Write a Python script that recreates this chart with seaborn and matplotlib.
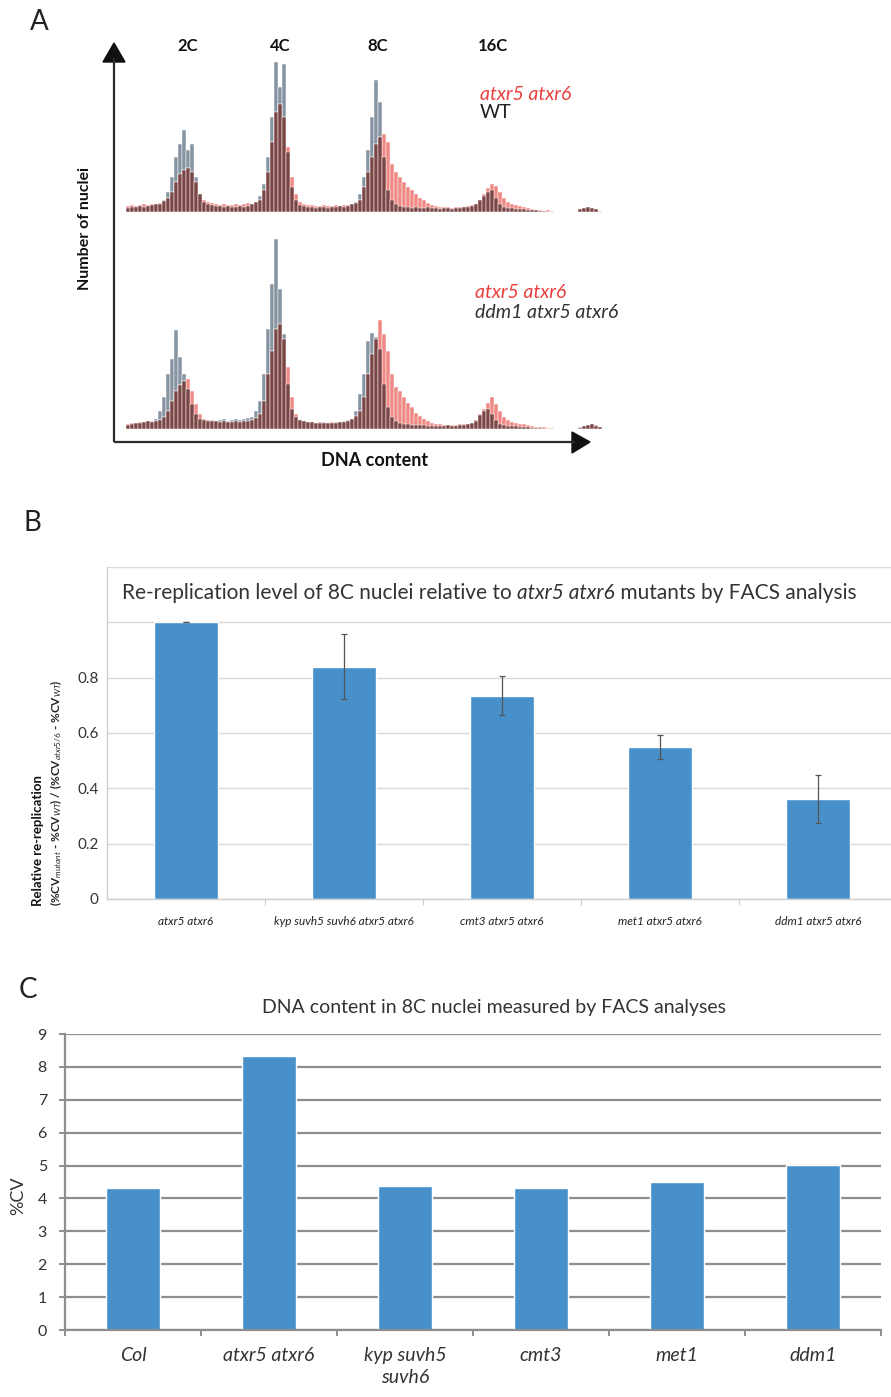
import numpy as np
import pandas as pd
import matplotlib
matplotlib.use("Agg")
import matplotlib.pyplot as plt
from matplotlib.patches import Polygon
import seaborn as sns

# ---------------------------------------------------------------------------
# Panel A: FACS histograms (counts per DNA-content channel bin)
# ---------------------------------------------------------------------------
hist_wt = [
    4, 5, 5, 6, 5, 6, 7, 8,
    8, 12, 20, 35, 55, 68, 82, 62, 68, 35, 18, 10, 8,
    7, 6, 6, 5, 6, 5, 5, 6, 5, 6, 8,
    10, 16, 28, 55, 95, 150, 125, 148, 60, 25, 12, 7,
    6, 5, 5, 4, 5, 5, 4, 5, 5, 6, 5, 6, 8,
    10, 18, 35, 62, 95, 132, 110, 55, 22, 12, 8,
    6, 5, 5, 4, 5, 4, 4, 5, 4, 4, 3, 4, 4, 3, 4, 4, 5, 5, 6,
    8, 12, 16, 20, 22, 14, 8, 5,
    4, 4, 3, 3, 3, 2, 2, 2, 1, 1, 0,
    0, 0, 0, 0, 0, 0, 0,
    3, 4, 5, 4, 3,
    0, 0,
]
hist_atxr56_top = [
    6, 7, 6, 7, 8, 7, 8, 8,
    9, 11,
    14, 20, 30, 38, 42, 44, 40, 30, 18, 12, 10,
    9, 8, 7, 8, 7, 7, 8, 7, 8, 9, 8, 10,
    12, 22, 40, 70, 100, 108, 95, 65, 35, 18, 10, 8,
    7, 7, 6, 6, 7, 6, 6, 7, 6, 7, 7, 8, 9,
    12, 25, 40, 55, 68, 75, 78, 70, 48, 40, 35, 30, 25, 22, 18, 14, 12, 9, 7,
    6, 5, 5, 5, 4, 5, 5, 5, 6, 7,
    8, 12, 18, 24, 28, 26, 20, 14, 10, 8, 7, 6, 5, 4, 3,
    2, 2, 1, 2, 1, 0,
    0, 0, 0, 0, 0,
    3, 4, 5, 4, 3,
    1, 0,
]
hist_ddm1_atxr56 = [
    4, 5, 6, 6, 7, 8, 8,
    10, 18, 32, 55, 70, 99, 72, 55, 40, 25, 15, 10,
    9, 8, 9, 8, 9, 10, 8, 9, 10, 9, 10, 11,
    12, 18, 28, 55, 100, 145, 190, 140, 95, 45, 20, 12, 9,
    8, 7, 7, 6, 6, 7, 6, 6, 7, 7, 8, 9,
    10, 18, 35, 55, 88, 96, 92, 80, 45, 22, 12, 8,
    6, 5, 5, 4, 4, 4, 4, 3, 3, 3, 3, 3, 4, 3, 3, 4, 4, 5, 6,
    8, 14, 18, 20, 15, 9, 5,
    4, 3, 3, 3, 2, 2, 2, 1, 1, 1, 0,
    0, 0, 0, 0, 0, 0, 0, 0, 2,
    3, 4, 5, 3,
    2, 0,
]
hist_atxr56_bottom = [
    5, 6, 6, 7, 7, 8, 7, 8, 9,
    12, 18, 28, 38, 44, 48, 50, 38, 25, 15, 10,
    9, 8, 8, 7, 8, 7, 7, 8, 7, 8, 8, 9, 11,
    15, 28, 55, 78, 100, 105, 90, 62, 32, 15, 9,
    8, 7, 7, 6, 7, 6, 6, 7, 6, 7, 7, 8, 10,
    13, 18, 32, 55, 75, 90, 109, 95, 78, 55, 42, 38, 32, 26, 22, 16, 13, 10, 8, 6,
    5, 5, 4, 4, 4, 4, 5, 5, 5,
    6, 9, 15, 20, 26, 32, 25, 18, 12, 9, 7, 6, 5, 5, 4, 3,
    2, 2, 2, 1, 1, 0,
    0, 0, 0, 0, 0, 1,
    3, 4, 5, 4,
    2, 0,
]
ploidy_labels = ["2C", "4C", "8C", "16C"]

# ---------------------------------------------------------------------------
# Panel B: relative re-replication of 8C nuclei
# ---------------------------------------------------------------------------
b_genotypes = ["atxr5 atxr6", "kyp suvh5 suvh6 atxr5 atxr6", "cmt3 atxr5 atxr6",
               "met1 atxr5 atxr6", "ddm1 atxr5 atxr6"]
b_values = [1.0, 0.84, 0.735, 0.55, 0.36]
b_errors = [0.0, 0.118, 0.07, 0.044, 0.087]

# ---------------------------------------------------------------------------
# Panel C: %CV of DNA content in 8C nuclei
# ---------------------------------------------------------------------------
c_genotypes = ["Col", "atxr5 atxr6", "kyp suvh5\nsuvh6", "cmt3", "met1", "ddm1"]
c_values = [4.33, 8.32, 4.38, 4.33, 4.50, 5.01]

# ---------------------------------------------------------------------------
sns.set_theme(style="white")
plt.rcParams["font.family"] = ["Lato", "DejaVu Sans"]
plt.rcParams["mathtext.fontset"] = "custom"
plt.rcParams["mathtext.rm"] = "Lato"
plt.rcParams["mathtext.it"] = "Lato:italic"
plt.rcParams["mathtext.bf"] = "Lato:bold"

W, H = 891, 1397
fig = plt.figure(figsize=(W / 100, H / 100), dpi=100)
fig.patch.set_facecolor("white")


def axes_px(left, top, right, bottom):
    return fig.add_axes([left / W, 1 - bottom / H, (right - left) / W, (bottom - top) / H])


GREY = "#8693a0"
PINK = "#ef8883"
MAROON = "#7b4646"
BAR_BLUE = "#4790c9"
TEXT = "#333333"

n_bins = len(hist_wt)
bin_centres = np.arange(n_bins) + 0.5


def draw_overlay(ax, grey_counts, red_counts, ymax):
    grey_counts = np.asarray(grey_counts, float)
    red_counts = np.asarray(red_counts, float)
    shared = np.minimum(grey_counts, red_counts)
    for counts, colour in ((grey_counts, GREY), (red_counts, PINK), (shared, MAROON)):
        frame = pd.DataFrame({"channel": bin_centres, "count": counts})
        sns.histplot(data=frame, x="channel", weights="count", bins=n_bins,
                     binrange=(0, n_bins), ax=ax,
                     color=colour, alpha=1, edgecolor="white", linewidth=0.35,
                     element="bars", fill=True, legend=False)
    ax.set_xlim(0, n_bins)
    ax.set_ylim(0, ymax)
    ax.axis("off")


ax_top = axes_px(126, 52, 606, 212)
draw_overlay(ax_top, hist_wt, hist_atxr56_top, 160)
ax_bot = axes_px(126, 229, 606, 429)
draw_overlay(ax_bot, hist_ddm1_atxr56, hist_atxr56_bottom, 200)

# ---------------------------------------------------------------------------
# Panel B
# ---------------------------------------------------------------------------
axB = axes_px(107, 567, 897, 899)
dfB = pd.DataFrame({"genotype": b_genotypes, "value": b_values})
sns.barplot(data=dfB, x="genotype", y="value", color=BAR_BLUE, saturation=1,
            width=0.41, ax=axB, errorbar=None)
axB.errorbar(np.arange(len(b_values)), b_values, yerr=b_errors, fmt="none",
             ecolor="#555555", elinewidth=0.9, capsize=2.5, capthick=0.9, zorder=5)
axB.set_xlim(-0.5, len(b_genotypes) - 0.5)
axB.set_ylim(0, 1.2)
axB.set_yticks(np.arange(0, 1.21, 0.2))
axB.set_yticklabels(["0", "0.2", "0.4", "0.6", "0.8", "", ""], fontsize=11, color=TEXT)
axB.yaxis.grid(True, color="#d9d9d9", lw=1)
axB.set_axisbelow(True)
axB.set_xlabel("")
axB.set_ylabel("")
axB.set_xticks(range(len(b_genotypes)))
axB.set_xticklabels(b_genotypes, fontsize=8.5, style="italic", color="#222222")
axB.set_xticks(np.arange(0.5, len(b_genotypes) - 0.5, 1), minor=True)
axB.tick_params(axis="x", which="major", length=0, pad=12)
axB.tick_params(axis="x", which="minor", length=4, color="#cccccc", width=0.8, direction="out", bottom=True)
axB.tick_params(axis="y", length=0, pad=6)
for side in ("top", "right"):
    axB.spines[side].set_visible(False)
for side in ("left", "bottom"):
    axB.spines[side].set_color("#cfcfcf")
    axB.spines[side].set_linewidth(1)

# ---------------------------------------------------------------------------
# Panel C
# ---------------------------------------------------------------------------
axC = axes_px(65, 1034, 881, 1330)
dfC = pd.DataFrame({"genotype": c_genotypes, "value": c_values})
sns.barplot(data=dfC, x="genotype", y="value", color=BAR_BLUE, saturation=1,
            width=0.4, ax=axC, errorbar=None)
axC.set_xlim(-0.5, len(c_genotypes) - 0.5)
axC.set_ylim(0, 9)
axC.set_yticks(range(0, 10))
axC.set_yticklabels([str(v) for v in range(0, 10)], fontsize=11.5, color=TEXT)
axC.yaxis.grid(True, color="#8e8e8e", lw=1.6)
axC.set_axisbelow(True)
axC.set_xlabel("")
axC.set_ylabel("")
axC.set_xticks(range(len(c_genotypes)))
axC.set_xticklabels(c_genotypes, fontsize=14, style="italic", color=TEXT, linespacing=1.4)
axC.set_xticks(np.arange(-0.5, len(c_genotypes), 1), minor=True)
axC.tick_params(axis="x", which="major", length=0, pad=12)
axC.tick_params(axis="x", which="minor", length=4, color="#8e8e8e", width=1.4, direction="out", bottom=True)
axC.tick_params(axis="y", length=4, color="#8e8e8e", width=1.4, direction="out", left=True, pad=9)
for side in ("top", "right"):
    axC.spines[side].set_visible(False)
for side in ("left", "bottom"):
    axC.spines[side].set_color("#8e8e8e")
    axC.spines[side].set_linewidth(1.6)

# ---------------------------------------------------------------------------
# Overlay: arrows, panel letters, titles and annotations
# ---------------------------------------------------------------------------
ov = fig.add_axes([0, 0, 1, 1])
ov.set_xlim(0, W)
ov.set_ylim(H, 0)
ov.axis("off")

axis_col = "#2b2b2b"
ov.plot([114, 114], [442, 58], color=axis_col, lw=1.6, solid_capstyle="butt")
ov.add_patch(Polygon([[103, 62], [125, 62], [114, 43]], closed=True, color="#111111"))
ov.plot([114, 575], [442, 442], color=axis_col, lw=1.6, solid_capstyle="butt")
ov.add_patch(Polygon([[572, 432], [572, 453], [590, 442]], closed=True, color="#111111"))

for label, xpos in zip(ploidy_labels, [188, 280, 378, 493]):
    ov.text(xpos, 46, label, ha="center", va="center", fontsize=12, fontweight="bold", color="#111111")

ov.text(85, 228, "Number of nuclei", rotation=90, ha="center", va="center",
        fontsize=11.5, fontweight="bold", color="#111111")
ov.text(375, 460, "DNA content", ha="center", va="center",
        fontsize=13, fontweight="bold", color="#111111")

ov.text(480, 94, "atxr5 atxr6", ha="left", va="center", fontsize=14, style="italic", color="#e8403f")
ov.text(480, 113, "WT", ha="left", va="center", fontsize=14, color="#222222")
ov.text(475, 293, "atxr5 atxr6", ha="left", va="center", fontsize=14, style="italic", color="#e8403f")
ov.text(475, 313, "ddm1 atxr5 atxr6", ha="left", va="center", fontsize=14, style="italic", color="#333333")

for letter, xpos, ypos in (("A", 39, 22), ("B", 32, 523), ("C", 28, 990)):
    ov.text(xpos, ypos, letter, ha="center", va="center", fontsize=20, fontweight="normal", color="#222222")

# Panel B title: plain / italic / plain pieces chained end to end
t_head = ov.text(122, 593, "Re-replication level of 8C nuclei relative to ",
                 ha="left", va="center", fontsize=15, color=TEXT)
t_geno = ov.annotate("atxr5 atxr6", xy=(1, 0), xycoords=t_head, ha="left", va="bottom",
                     fontsize=15, style="italic", color=TEXT)
ov.annotate(" mutants by FACS analysis", xy=(1, 0), xycoords=t_geno, ha="left", va="bottom",
            fontsize=15, color=TEXT)

ov.text(38, 906, "Relative re-replication", rotation=90, rotation_mode="anchor",
        ha="left", va="center", fontsize=9.5, fontweight="bold", color="#111111")
ov.text(56, 906, r"(%CV$_{\it mutant}$ - %CV$_{\it WT}$) / (%CV$_{\it atxr5/6}$ - %CV$_{\it WT}$)",
        rotation=90, rotation_mode="anchor", ha="left", va="center",
        fontsize=8.5, fontweight="bold", color="#222222")

ov.text(494, 1007, "DNA content in 8C nuclei measured by FACS analyses", ha="center", va="center",
        fontsize=14, color=TEXT)
ov.text(18, 1196, "%CV", rotation=90, ha="center", va="center", fontsize=13, color=TEXT)

fig.savefig("out.png", dpi=100, facecolor="white")
